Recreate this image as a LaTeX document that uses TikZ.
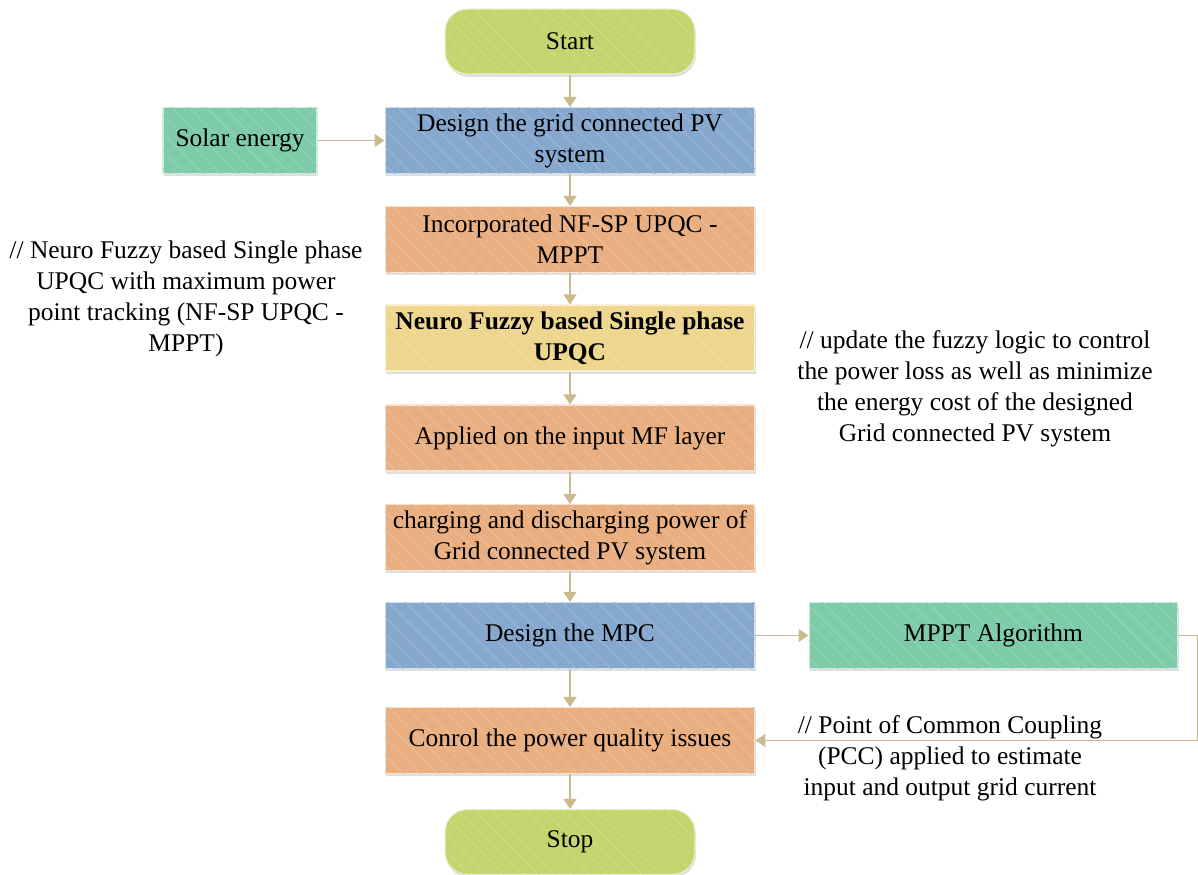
\documentclass[tikz,border=0pt]{standalone}
\usepackage{fontspec}
\setmainfont{Liberation Serif}
\usetikzlibrary{arrows.meta,shadows,patterns.meta}
\definecolor{lime}{HTML}{C3D66E}
\definecolor{steel}{HTML}{86A8CE}
\definecolor{peach}{HTML}{EAAF80}
\definecolor{sand}{HTML}{EED68E}
\definecolor{mint}{HTML}{7DCBA8}
\definecolor{flowline}{HTML}{CBB98F}

\begin{document}
\begin{tikzpicture}[x=0.02cm,y=-0.02cm,
  every node/.style={font=\fontsize{14.5}{17.6}\selectfont,align=center,inner sep=2pt},
  box/.style={draw=white!65!#1,fill=#1,line width=0.6pt,minimum width=7.4cm,minimum height=1.32cm,
    drop shadow={opacity=0.25,shadow xshift=0.6pt,shadow yshift=-1.6pt},
    postaction={pattern={Lines[angle=-45,distance=7pt,line width=0.5pt]},pattern color=white!18!#1}},
  term/.style={box=lime,minimum width=5cm,minimum height=1.3cm,rounded corners=0.45cm},
  flow/.style={draw=flowline,line width=0.8pt,-{Triangle[width=0.26cm,length=0.2cm]}}]
\useasboundingbox (0,0) rectangle (1198,875);
% main column
\node[term] (start) at (570,41.5) {Start};
\node[box=steel] (pv) at (570,140.5) {Design the grid connected PV\\system};
\node[box=peach] (nfsp) at (570,239.5) {Incorporated NF-SP UPQC -\\MPPT};
\node[box=sand,font=\fontsize{14.5}{17.6}\selectfont\bfseries] (upqc) at (570,338) {Neuro Fuzzy based Single phase\\UPQC};
\node[box=peach] (mf) at (570,438) {Applied on the input MF layer};
\node[box=peach] (chg) at (570,537.5) {charging and discharging power of\\Grid connected PV system};
\node[box=steel] (mpc) at (570,635.5) {Design the MPC};
\node[box=peach] (ctrl) at (570,740.5) {Conrol the power quality issues};
\node[term] (stop) at (570,842) {Stop};
% side boxes
\node[box=mint,minimum width=3.08cm] (solar) at (240,140.5) {Solar energy};
\node[box=mint,minimum width=7.38cm] (mppt) at (993.5,635.5) {MPPT Algorithm};
% notes
\node (noteL) at (186,299) {// Neuro Fuzzy based Single phase\\UPQC with maximum power\\point tracking (NF-SP UPQC -\\MPPT)};
\node (noteR) at (975,388.5) {// update the fuzzy logic to control\\the power loss as well as minimize\\the energy cost of the designed\\Grid connected PV system};
\node (notePCC) at (950,758.5) {// Point of Common Coupling\\(PCC) applied to estimate\\input and output grid current};
% connectors
\draw[flow] (start) -- (pv);
\draw[flow] (pv) -- (nfsp);
\draw[flow] (nfsp) -- (upqc);
\draw[flow] (upqc) -- (mf);
\draw[flow] (mf) -- (chg);
\draw[flow] (chg) -- (mpc);
\draw[flow] (mpc) -- (ctrl);
\draw[flow] (ctrl) -- (stop);
\draw[flow] (solar) -- (pv);
\draw[flow] (mpc) -- (mppt);
\draw[flow] (mppt.east) -- ++(19,0) |- (ctrl.east);
\end{tikzpicture}
\end{document}
